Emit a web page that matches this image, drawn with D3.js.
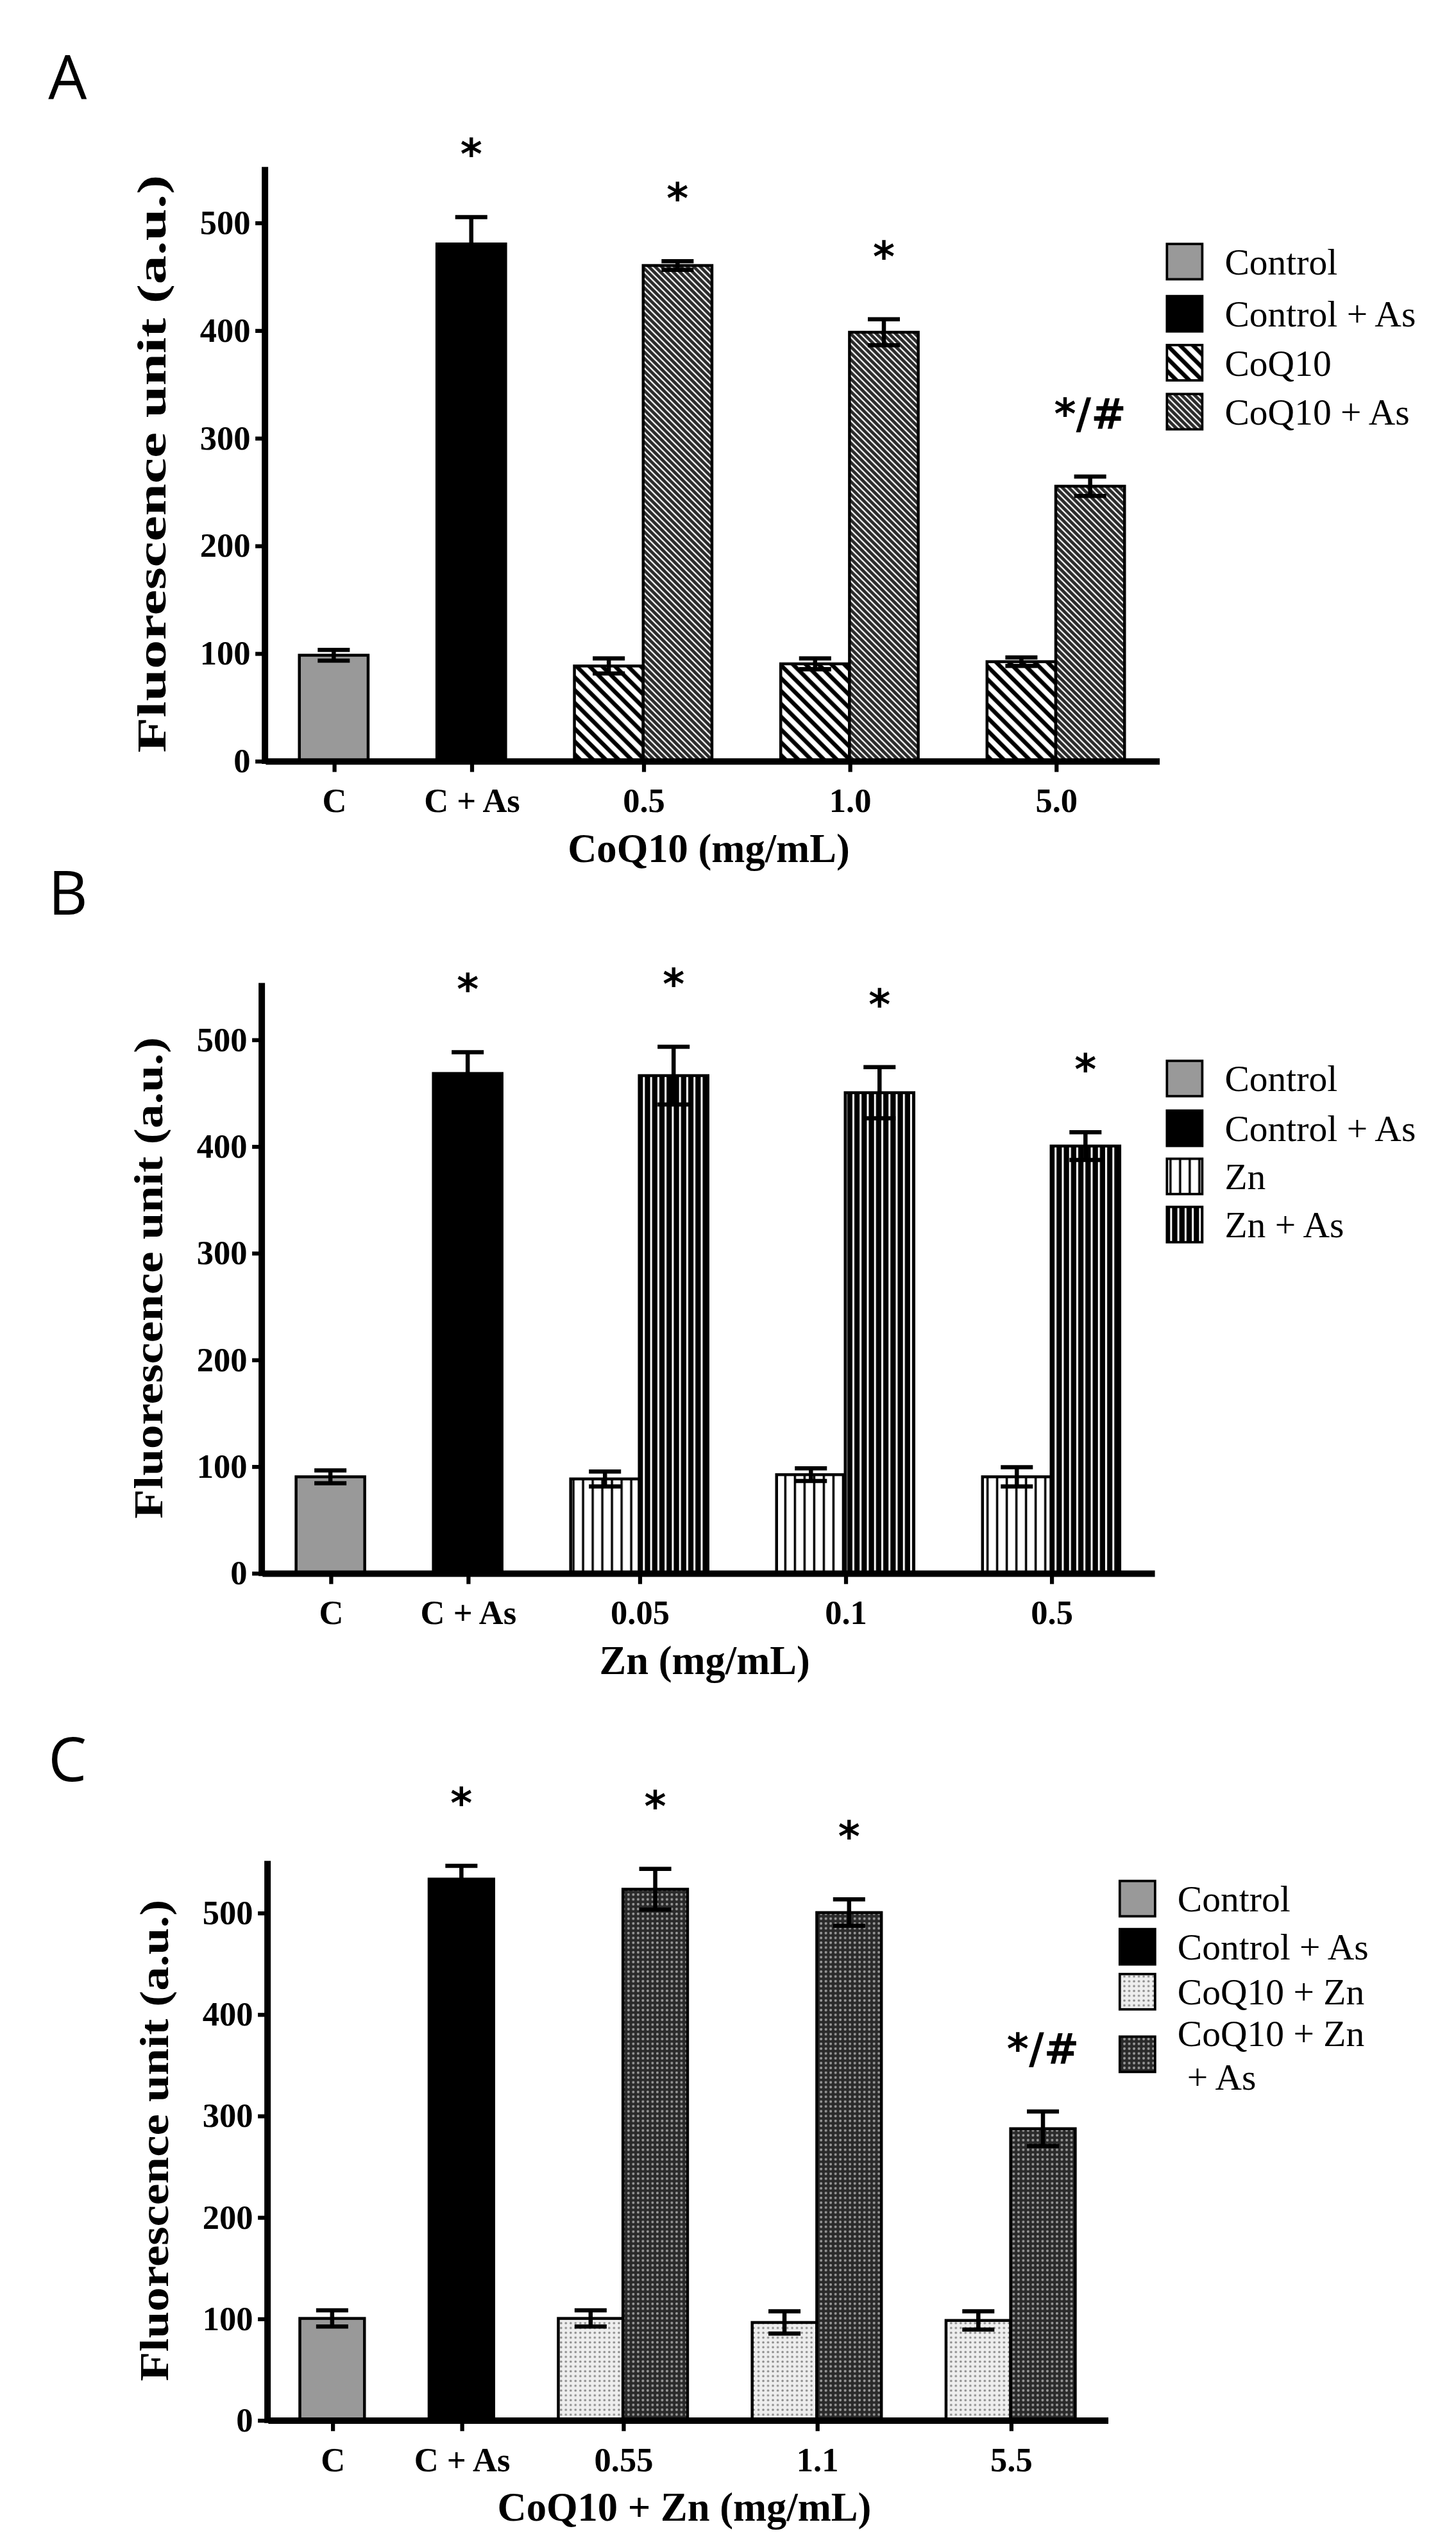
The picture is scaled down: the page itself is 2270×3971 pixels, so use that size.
<!DOCTYPE html><html><head><meta charset="utf-8">
<script src="https://cdn.jsdelivr.net/npm/d3@7"></script>
<style>body{margin:0;background:#fff}</style></head><body>
<script>
const groups=[["C","C + As","0.5","1.0","5.0"],["C","C + As","0.05","0.1","0.5"],["C","C + As","0.55","1.1","5.5"]];
const xTitles=["CoQ10 (mg/mL)","Zn (mg/mL)","CoQ10 + Zn (mg/mL)"];
const letters=["A","B","C"];
const legendLabels=[["Control","Control + As","CoQ10","CoQ10 + As"],["Control","Control + As","Zn","Zn + As"],["Control","Control + As","CoQ10 + Zn","CoQ10 + Zn|+ As"]];
const ctrlVal=[98,90,100], ctrlErr=[5,6,8];
const asVal=[480,468,533], asErr=[25,20,13];
const trtVal=[[88,90,92],[88,92,90],[100,96,98]];
const trtErr=[[7,5,4],[7,6,9],[8,11,9]];
const trtAsVal=[[460,398,255],[466,450,400],[523,500,287]];
const trtAsErr=[[4,12,9],[27,24,13],[20,13,17]];
const marks=[["*","*","*","*/#"],["*","*","*","*"],["*","*","*","*/#"]];
const yTicks=[0,100,200,300,400,500];
const groupSlots=[0,2,4.5,7.5,10.5];

const W=907,H=1587;
const svg=d3.select("body").append("svg").attr("width",2270).attr("height",3971).attr("viewBox",`0 0 ${W} ${H}`);
const defs=svg.append("defs");
function pat(id,w,h,draw,bg){const p=defs.append("pattern").attr("id",id).attr("patternUnits","userSpaceOnUse").attr("width",w).attr("height",h);
 p.append("rect").attr("width",w).attr("height",h).attr("fill",bg);draw(p);}
pat("hLight",8,8,p=>{p.append("path").attr("d","M0,0L8,8M-1,7L1,9M7,-1L9,1").attr("stroke","#000").attr("stroke-width",2.6)},"#fff");
pat("hDark",4,4,p=>{p.append("path").attr("d","M0,0L4,4M-1,3L1,5M3,-1L5,1").attr("stroke","#fff").attr("stroke-width",0.9)},"#2a2a2a");
pat("vLight",6,6,p=>{p.append("rect").attr("x",2.5).attr("width",1.4).attr("height",6).attr("fill","#000")},"#fff");
pat("vDark",4.5,4,p=>{p.append("rect").attr("x",0).attr("width",1.2).attr("height",4).attr("fill","#fff")},"#000");
pat("dLight",3,3,p=>{p.append("circle").attr("cx",1.5).attr("cy",1.5).attr("r",0.7).attr("fill","#888")},"#eee");
pat("dDark",3,3,p=>{p.append("circle").attr("cx",1.5).attr("cy",1.5).attr("r",0.8).attr("fill","#999")},"#2a2a2a");
const fills=[["#999","#000","url(#hLight)","url(#hDark)"],["#999","#000","url(#vLight)","url(#vDark)"],["#999","#000","url(#dLight)","url(#dDark)"]];

const panels=[
 {x0:165,x1:722,top:104,zero:474,y500:138.6,letterY:62,legX:727,legY:[163,195.5,226,256.5],labLen:360},
 {x0:163,x1:719,top:612.5,zero:980,y500:647.6,letterY:570,legX:727,legY:[672,703,733,763],labLen:300},
 {x0:166.6,x1:690,top:1159.5,zero:1507.8,y500:1191.7,letterY:1110,legX:697.6,legY:[1183,1213,1241,1280],labLen:300}];
const serif="'Liberation Serif','Times New Roman',serif";
panels.forEach((P,i)=>{
 const g=svg.append("g");
 g.append("text").attr("x",30).attr("y",P.letterY).text(letters[i]).attr("font-family","'Open Sans',sans-serif").attr("font-size",38);
 const y=d3.scaleLinear().domain([0,500]).range([P.zero,P.y500]);
 const x=d3.scaleLinear().domain([-1,12]).range([P.x0,P.x1]);
 const bw=x(1)-x(0);
 const bars=[];
 bars.push({c:x(groupSlots[0]),v:ctrlVal[i],e:ctrlErr[i],f:fills[i][0]});
 bars.push({c:x(groupSlots[1]),v:asVal[i],e:asErr[i],f:fills[i][1],m:marks[i][0]});
 for(let k=0;k<3;k++){const s=groupSlots[k+2];
  bars.push({c:x(s-0.5),v:trtVal[i][k],e:trtErr[i][k],f:fills[i][2]});
  bars.push({c:x(s+0.5),v:trtAsVal[i][k],e:trtAsErr[i][k],f:fills[i][3],m:marks[i][k+1]});}
 bars.forEach(b=>{
  g.append("rect").attr("x",b.c-bw/2).attr("y",y(b.v)).attr("width",bw).attr("height",y(0)-y(b.v)).attr("fill",b.f).attr("stroke","#000").attr("stroke-width",1.8);
  g.append("path").attr("d",`M${b.c},${y(b.v-b.e)}V${y(b.v+b.e)}M${b.c-10},${y(b.v+b.e)}H${b.c+10}M${b.c-10},${y(b.v-b.e)}H${b.c+10}`).attr("stroke","#000").attr("stroke-width",2.6).attr("fill","none");
  if(b.m) g.append("text").attr("x",b.c).attr("y",y(b.v+b.e)-30).attr("text-anchor","middle").attr("font-family","'DejaVu Sans',sans-serif").attr("font-weight","bold").attr("font-size",26).text(b.m);
 });
 const ya=g.append("g").attr("transform",`translate(${P.x0},0)`).call(d3.axisLeft(y).tickValues(yTicks).tickSize(6).tickSizeOuter(0).tickPadding(3));
 ya.select(".domain").remove();
 g.append("line").attr("x1",P.x0).attr("x2",P.x0).attr("y1",P.top).attr("y2",P.zero+2).attr("stroke","#000").attr("stroke-width",4);
 ya.selectAll("line").attr("stroke-width",2.5);
 ya.selectAll("text").attr("font-family",serif).attr("font-weight","bold").attr("font-size",21).attr("fill","#000");
 const xa=g.append("g").attr("transform",`translate(0,${P.zero})`).call(d3.axisBottom(x).tickValues(groupSlots).tickFormat((d,j)=>groups[i][j]).tickSize(7).tickSizeOuter(0));
 xa.select(".domain").attr("stroke-width",4);
 xa.selectAll("line").attr("stroke-width",2.5);
 xa.selectAll("text").attr("font-family",serif).attr("font-weight","bold").attr("font-size",21).attr("dy","1.05em").attr("fill","#000");
 g.append("text").attr("x",(P.x0+P.x1)/2-2).attr("y",P.zero+63).attr("text-anchor","middle").attr("font-family",serif).attr("font-weight","bold").attr("font-size",25).text(xTitles[i]);
 g.append("text").attr("transform",`translate(${P.x0-62},${(P.zero+P.top)/2}) rotate(-90)`).attr("text-anchor","middle").attr("font-family",serif).attr("font-weight","bold").attr("font-size",25).attr("textLength",P.labLen).attr("lengthAdjust","spacingAndGlyphs").text("Fluorescence unit (a.u.)");
 legendLabels[i].forEach((t,k)=>{
  const ly=P.legY[k];
  g.append("rect").attr("x",P.legX).attr("y",ly-11).attr("width",22).attr("height",22).attr("fill",fills[i][k]).attr("stroke","#000").attr("stroke-width",1.5);
  const parts=t.split("|");
  parts.forEach((pt,j)=>g.append("text").attr("x",P.legX+(pt.startsWith("+")?42:36)).attr("y",ly+8+j*27-(parts.length>1?13:0)).attr("font-family",serif).attr("font-size",23).text(pt));
 });
});
</script></body></html>
